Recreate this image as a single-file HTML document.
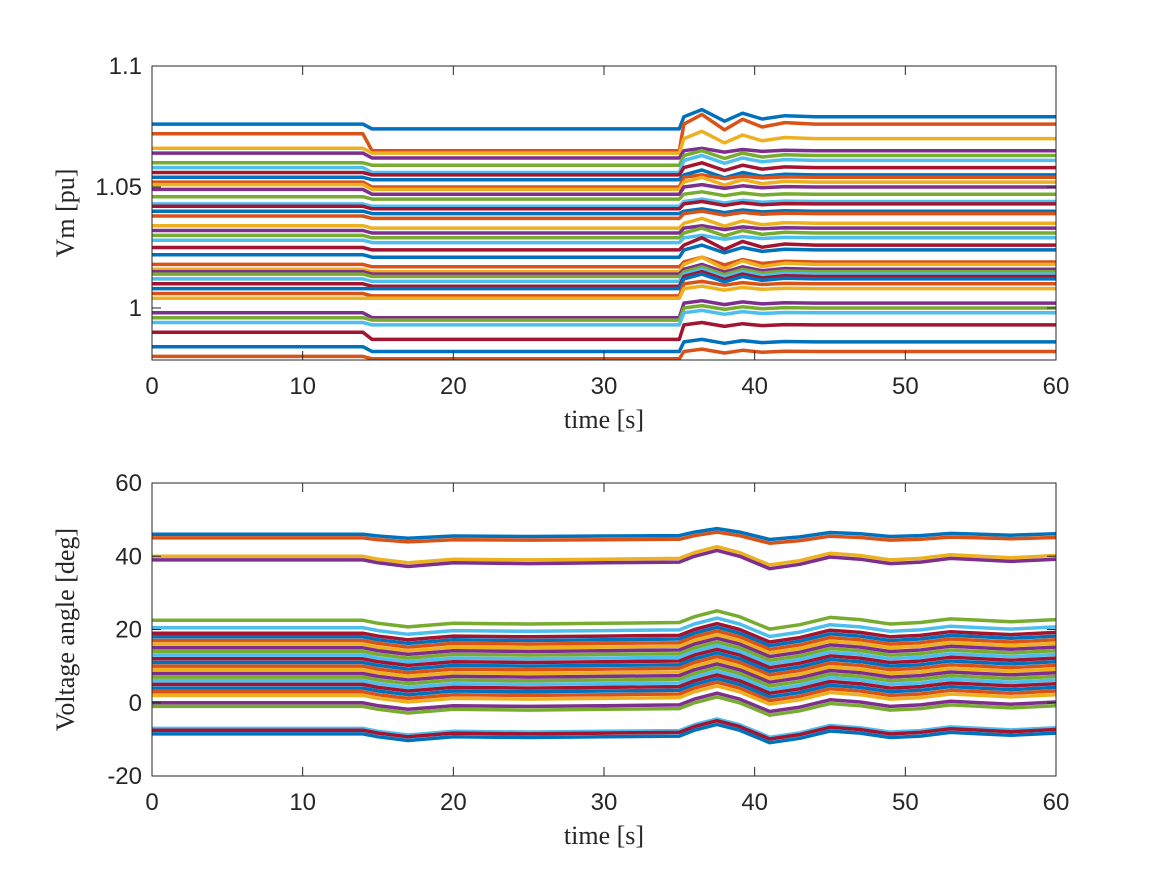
<!DOCTYPE html>
<html><head><meta charset="utf-8">
<style>
body{margin:0;background:#fff;}
svg text{font-family:"Liberation Sans",sans-serif;}
.serif{font-family:"Liberation Serif",serif;}
</style></head>
<body>
<svg id="fig" width="1167" height="875" xmlns="http://www.w3.org/2000/svg">
<rect width="1167" height="875" fill="#fff"/>
<g id="top"></g>
<g id="bot"></g>
</svg>
<script>
// Top plot data (pu): initial level, level after t=14 s, final level, oscillation amplitude after t=35 s
const vmInitial = [1.076,1.072,1.066,1.064,1.060,1.058,1.056,1.054,1.052,1.051,1.049,1.046,1.043,1.042,1.040,1.038,1.034,1.032,1.030,1.028,1.025,1.022,1.018,1.016,1.015,1.014,1.012,1.010,1.008,1.006,1.004,0.998,0.996,0.994,0.990,0.984,0.980];
const vmMid     = [1.074,1.065,1.064,1.062,1.059,1.056,1.055,1.053,1.050,1.049,1.047,1.045,1.042,1.041,1.039,1.037,1.033,1.031,1.029,1.027,1.024,1.021,1.017,1.015,1.014,1.013,1.011,1.009,1.008,1.005,1.004,0.996,0.995,0.993,0.987,0.982,0.979];
const vmFinal   = [1.079,1.076,1.070,1.065,1.063,1.061,1.058,1.055,1.054,1.052,1.050,1.047,1.044,1.043,1.040,1.039,1.035,1.033,1.031,1.029,1.026,1.024,1.019,1.018,1.016,1.015,1.014,1.013,1.012,1.010,1.008,1.002,1.000,0.998,0.993,0.986,0.982];
const vmOsc     = [0.003,0.004,0.003,0.001,0.002,0.002,0.002,0.002,0.001,0.002,0.001,0.001,0.001,0.001,0.001,0.001,0.002,0.001,0.002,0.001,0.003,0.002,0.002,0.003,0.002,0.002,0.002,0.002,0.002,0.001,0.001,0.001,0.001,0.001,0.001,0.001,0.001];
const vmYTicks = [1, 1.05, 1.1];
const vmYLabels = ["1","1.05","1.1"];
// Bottom plot data (deg): initial level, oscillation scale
const angInitial = [46,45,40,39,22.5,20.5,19,18,17,16,15,14,13,12,11,10,9,8,7,6,5,4,3,2,0,-1,-7,-7.5,-8.5];
const angScale   = [0.6,0.6,1,1,1,1,1,1,1,1,1,1,1,1,1,1,1,1,1,1,1,1,1,1,1,1,1,1,1];
// shared angle disturbance template (deg) at template times
const angTimes = [0,14,15,17,20,25,30,35,36,37.5,39,41,43,45,47,49,51,53,55,57,60];
const angDev   = [0,0,-0.8,-1.8,-0.8,-1.0,-0.8,-0.6,1.0,2.6,1.0,-2.4,-1.2,0.8,0.2,-1.0,-0.6,0.4,0.0,-0.4,0.2];
const vmTimes = [0,14,14.6,35,35.3,36.5,38,39.2,40.5,42,44,47,60];
const vmShape = [0,0,0,0,0,1,-0.6,0.5,-0.3,0.15,0,0,0];
const xTicks = [0,10,20,30,40,50,60];
const angYTicks = [-20,0,20,40,60];
const colors = ["#0072BD","#D95319","#EDB120","#7E2F8E","#77AC30","#4DBEEE","#A2142F"];

const NS="http://www.w3.org/2000/svg";
function mk(p,tag,attrs){const e=document.createElementNS(NS,tag);for(const k in attrs)e.setAttribute(k,attrs[k]);p.appendChild(e);return e;}
function axes(g,L,T,R,B,xmin,xmax,ymin,ymax){
  return {x:v=>L+(v-xmin)/(xmax-xmin)*(R-L),y:v=>B-(v-ymin)/(ymax-ymin)*(B-T),L,T,R,B};
}
function frame(g,a,yt,yl,ylabel,name){
  mk(g,'rect',{x:a.L,y:a.T,width:a.R-a.L,height:a.B-a.T,fill:'none',stroke:'#262626','stroke-width':1});
  xTicks.forEach(t=>{const x=a.x(t);
    mk(g,'line',{x1:x,x2:x,y1:a.B,y2:a.B-9,stroke:'#262626'});mk(g,'line',{x1:x,x2:x,y1:a.T,y2:a.T+9,stroke:'#262626'});
    const tx=mk(g,'text',{x:x,y:a.B+34,'text-anchor':'middle','font-size':24,fill:'#262626'});tx.textContent=t;
    
    });
  yt.forEach((t,i)=>{const y=a.y(t);
    mk(g,'line',{x1:a.L,x2:a.L+9,y1:y,y2:y,stroke:'#262626'});mk(g,'line',{x1:a.R,x2:a.R-9,y1:y,y2:y,stroke:'#262626'});
    const tx=mk(g,'text',{x:a.L-10,y:y+8,'text-anchor':'end','font-size':24,fill:'#262626'});tx.textContent=yl[i];
    
    });
  const xl=mk(g,'text',{x:(a.L+a.R)/2,y:a.B+68,'text-anchor':'middle','font-size':26,fill:'#262626',class:'serif'});xl.textContent='time [s]';
  
  
  const cy=(a.T+a.B)/2;
  const yl2=mk(g,'text',{x:0,y:0,'text-anchor':'middle','font-size':26,fill:'#262626',class:'serif',transform:`translate(${a.L-78},${cy}) rotate(-90)`});yl2.textContent=ylabel;
  
  
}
function clip(id,a){const d=mk(document.getElementById('fig'),'clipPath',{id});mk(d,'rect',{x:a.L,y:a.T,width:a.R-a.L,height:a.B-a.T});}

// Top
const gt=document.getElementById('top');
const A=axes(gt,152,66,1056,360,0,60,0.9785,1.1);
clip('c1',A);
const lt=mk(gt,'g',{'clip-path':'url(#c1)'});
vmInitial.forEach((v0,i)=>{
  const pts=vmTimes.map((t,k)=>{let v;
    if(t<=14)v=v0;else if(t<=35)v=vmMid[i];else v=vmFinal[i]+vmOsc[i]*vmShape[k];
    return A.x(t).toFixed(1)+','+A.y(v).toFixed(1);});
  const p=mk(lt,'polyline',{points:pts.join(' '),fill:'none',stroke:colors[i%7],'stroke-width':3.5,'stroke-linejoin':'round'});
  
  
});
frame(gt,A,vmYTicks,vmYLabels,'Vm [pu]','y-axis-title-vm');

// Bottom
const gb=document.getElementById('bot');
const B=axes(gb,152,483,1056,776,0,60,-20,60);
clip('c2',B);
const lb=mk(gb,'g',{'clip-path':'url(#c2)'});
angInitial.forEach((v0,i)=>{
  const pts=angTimes.map((t,k)=>B.x(t).toFixed(1)+','+B.y(v0+angDev[k]*angScale[i]).toFixed(1));
  const p=mk(lb,'polyline',{points:pts.join(' '),fill:'none',stroke:colors[i%7],'stroke-width':3.5,'stroke-linejoin':'round'});
  
  
});
frame(gb,B,angYTicks,angYTicks.map(String),'Voltage angle [deg]','y-axis-title-angle');
</script>
</body></html>
